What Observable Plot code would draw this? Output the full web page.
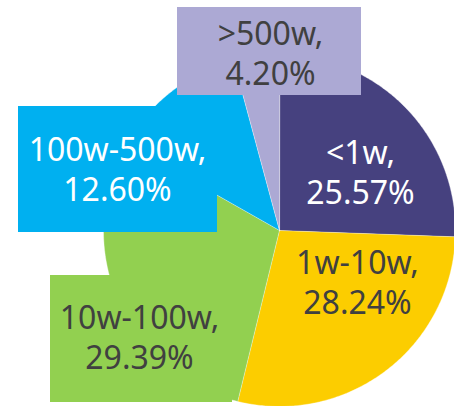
<!DOCTYPE html>
<html><head><meta charset="utf-8">
<script src="https://cdn.jsdelivr.net/npm/d3@7"></script>
<script src="https://cdn.jsdelivr.net/npm/@observablehq/plot@0.6"></script>
<style>body{margin:0;background:#fff;} #chart svg{display:block;}</style>
</head><body><div id="chart"></div>
<script>
// ---- data ----
const categories = ["<1w", "1w-10w", "10w-100w", "100w-500w", ">500w"];
const shares = [25.57, 28.24, 29.39, 12.60, 4.20];

// ---- styles ----
const sliceColors = ["#46417f", "#fccd00", "#92d050", "#00b0f0", "#aca9d4"];
const textColors = ["#ffffff", "#404040", "#404040", "#ffffff", "#404040"];

// ---- layout (pixels) ----
const W = 454, H = 406, cx = 279, cy = 230, R = 176;
const labelPos = [[360, 171], [357, 281], [139, 336], [117, 168], [270, 52]];
const labelBoxes = [null, null, [50, 275, 232, 402], [18, 106, 217, 232], [177, 7, 361, 95]];

// pie geometry from the data
const arcs = d3.pie().sort(null).value(d => d)(shares);
const slicePts = [];
arcs.forEach((p, i) => {
  const n = Math.max(2, Math.ceil((p.endAngle - p.startAngle) / 0.01));
  slicePts.push({i, x: cx, y: cy});
  for (let k = 0; k <= n; k++) {
    const a = p.startAngle + (p.endAngle - p.startAngle) * k / n;
    slicePts.push({i, x: cx + R * Math.sin(a), y: cy - R * Math.cos(a)});
  }
});

const boxes = labelBoxes.map((b, i) => b && {i, x1: b[0], y1: b[1], x2: b[2], y2: b[3]}).filter(Boolean);
const labels = categories.map((c, i) => ({i, x: labelPos[i][0], y: labelPos[i][1], text: `${c},\n${shares[i].toFixed(2)}%`}));

const chart = Plot.plot({
  width: W, height: H, margin: 0,
  style: {background: "#fff", overflow: "visible"},
  x: {domain: [0, W], range: [0, W], axis: null},
  y: {domain: [0, H], range: [0, H], axis: null},
  marks: [
    Plot.line(slicePts, {x: "x", y: "y", z: "i", fill: d => sliceColors[d.i], stroke: "#ffffff", strokeWidth: 0.6, strokeOpacity: 0.6, curve: "linear-closed"}),
    Plot.rect(boxes, {x1: "x1", x2: "x2", y1: "y1", y2: "y2", fill: d => sliceColors[d.i]}),
    Plot.text(labels, {x: "x", y: "y", text: "text", fill: d => textColors[d.i], fontSize: 32, lineHeight: 1.22, fontFamily: "'Segoe UI', 'Noto Sans', sans-serif", textAnchor: "middle", lineAnchor: "middle"})
  ]
});
document.getElementById("chart").appendChild(chart);
</script>
</body></html>
